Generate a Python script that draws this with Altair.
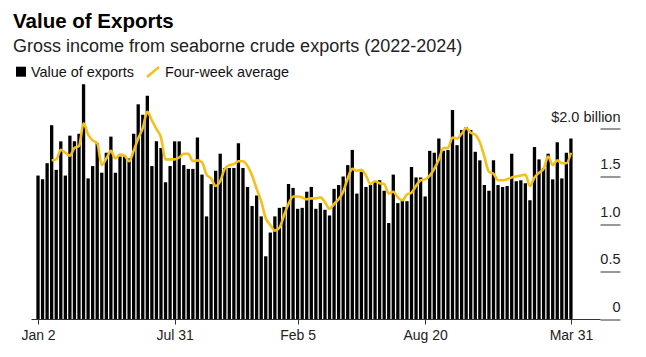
import altair as alt
import pandas as pd

TITLE = "Value of Exports"
SUBTITLE = "Gross income from seaborne crude exports (2022-2024)"
LEGEND_LABELS = ["Value of exports", "Four-week average"]

FIRST_WEEK = "2022-01-02"
# weekly value of exports, $ billion
VALUES = [
    1.51, 1.47, 1.64, 2.04, 1.57, 1.87, 1.51, 1.93, 1.87, 1.95,
    2.47, 1.48, 1.61, 1.85, 1.54, 1.75, 1.92, 1.54, 1.71, 1.71,
    1.69, 1.95, 2.26, 2.15, 2.35, 1.61, 1.87, 1.80, 1.44, 1.61,
    1.87, 1.87, 1.62, 1.58, 1.58, 1.91, 1.52, 1.08, 1.42, 1.56,
    1.74, 1.59, 1.59, 1.59, 1.85, 1.59, 1.39, 1.19, 1.30, 1.08,
    0.66, 0.91, 1.08, 1.17, 1.18, 1.42, 1.38, 1.16, 1.17, 1.34,
    1.39, 1.16, 1.22, 1.15, 1.09, 1.37, 1.41, 1.50, 1.62, 1.78,
    1.32, 1.55, 1.39, 1.41, 1.45, 1.46, 1.35, 1.01, 1.52, 1.22,
    1.25, 1.24, 1.60, 1.49, 1.49, 1.29, 1.77, 1.75, 1.90, 1.77,
    1.78, 2.20, 1.83, 1.99, 2.02, 1.99, 1.76, 1.67, 1.41, 1.35,
    1.67, 1.41, 1.39, 1.40, 1.74, 1.45, 1.46, 1.43, 1.25, 1.81,
    1.68, 1.59, 1.74, 1.47, 1.86, 1.48, 1.75, 1.90,
]
# four-week average, starting at the 4th week
AVERAGE = [
    1.67, 1.68, 1.78, 1.75, 1.72, 1.80, 1.82, 2.06, 1.94, 1.88,
    1.85, 1.62, 1.69, 1.77, 1.69, 1.73, 1.72, 1.66, 1.77, 1.90,
    2.01, 2.18, 2.09, 2.00, 1.91, 1.68, 1.68, 1.68, 1.70, 1.74,
    1.74, 1.66, 1.67, 1.65, 1.52, 1.48, 1.40, 1.45, 1.58, 1.62,
    1.63, 1.66, 1.66, 1.61, 1.51, 1.37, 1.24, 1.06, 0.99, 0.93,
    0.96, 1.09, 1.21, 1.29, 1.29, 1.28, 1.26, 1.27, 1.27, 1.28,
    1.23, 1.16, 1.21, 1.26, 1.34, 1.48, 1.58, 1.56, 1.57, 1.51,
    1.42, 1.45, 1.43, 1.42, 1.32, 1.34, 1.28, 1.25, 1.31, 1.33,
    1.40, 1.46, 1.47, 1.51, 1.58, 1.68, 1.80, 1.80, 1.91, 1.90,
    1.95, 2.01, 1.96, 1.94, 1.86, 1.71, 1.55, 1.53, 1.46, 1.46,
    1.47, 1.49, 1.50, 1.51, 1.52, 1.40, 1.49, 1.54, 1.58, 1.71,
    1.62, 1.67, 1.64, 1.64, 1.75,
]
Y_TICKS = [0, 0.5, 1.0, 1.5, 2.0]
X_TICKS = [(2022, 1, 2), (2022, 7, 31), (2023, 2, 5), (2023, 8, 20), (2024, 3, 31)]

weeks = pd.date_range(FIRST_WEEK, periods=len(VALUES), freq="7D")
bars_df = pd.DataFrame({"week": weeks, "value": VALUES})
avg_df = pd.DataFrame({"week": weeks[len(VALUES) - len(AVERAGE):], "avg": AVERAGE})

FONT = "Liberation Sans"
YELLOW = "#F4C01A"
LEFT, TOP = 31, 81.5
W, H = 569, 237.5

x_scale = alt.Scale(
    domain=[alt.DateTime(year=2021, month=12, date=29, hours=22),
            alt.DateTime(year=2024, month=5, date=7)]
)
y_scale = alt.Scale(domain=[0, 2.5], nice=False)

x_axis = alt.Axis(
    values=[alt.DateTime(year=y, month=m, date=d) for (y, m, d) in X_TICKS],
    format="%b %-d", title=None, grid=False, tickSize=5, labelPadding=4,
    domainColor="#333333", tickColor="#333333", labelColor="#222222",
    labelFontSize=14, labelFont=FONT, labelFlush=False, labelOverlap=False,
)
y_axis = alt.Axis(
    orient="right", values=Y_TICKS, title=None, grid=False, domain=False,
    tickSize=20, tickColor="#333333", labelPadding=0, labelAlign="right",
    labelBaseline="alphabetic", labelOffset=-8, labelFontSize=14.5, labelFont=FONT,
    labelColor="#222222", labelFlush=False, labelOverlap=False,
    labelExpr="datum.value == 2 ? '$2.0 billion' : (datum.value == 0 ? '0' : format(datum.value, '.1f'))",
)

bars = alt.Chart(bars_df).mark_bar(size=3.3, color="#000000").encode(
    x=alt.X("week:T", scale=x_scale, axis=x_axis),
    y=alt.Y("value:Q", scale=y_scale, axis=y_axis),
)
line = alt.Chart(avg_df).mark_line(color=YELLOW, strokeWidth=2.6, interpolate="monotone").encode(
    x=alt.X("week:T", scale=x_scale),
    y=alt.Y("avg:Q", scale=y_scale),
)

def text_layer(txt, x, y, size, weight="normal", color="#111111"):
    return alt.Chart(pd.DataFrame({"t": [txt]})).mark_text(
        align="left", baseline="alphabetic", font=FONT, fontSize=size,
        fontWeight=weight, color=color,
    ).encode(x=alt.value(x - LEFT), y=alt.value(y - TOP), text="t:N")

title = text_layer(TITLE, 13, 27.5, 20.5, "bold", "#000000")
subtitle = text_layer(SUBTITLE, 13, 52, 18, "normal", "#222222")
leg1 = text_layer(LEGEND_LABELS[0], 31, 76.5, 14.4, "normal", "#111111")
leg2 = text_layer(LEGEND_LABELS[1], 165, 76.5, 14.4, "normal", "#111111")

one = pd.DataFrame({"k": [0]})
leg_sq = alt.Chart(one).mark_square(size=100, color="#000000", opacity=1).encode(
    x=alt.value(21 - LEFT), y=alt.value(71.7 - TOP)
)
leg_slash = alt.Chart(one).mark_rule(color=YELLOW, strokeWidth=2.5).encode(
    x=alt.value(147 - LEFT), x2=alt.value(159 - LEFT),
    y=alt.value(77 - TOP), y2=alt.value(67 - TOP),
)

chart = alt.layer(bars, line, title, subtitle, leg_sq, leg_slash, leg1, leg2).properties(
    width=W, height=H,
    padding={"left": LEFT, "top": TOP, "right": 646 - LEFT - W, "bottom": 357 - TOP - H},
    autosize=alt.AutoSizeParams(type="none"),
).configure_view(stroke=None)

chart.save("out.html", embed_options={"renderer": "svg", "actions": False})
